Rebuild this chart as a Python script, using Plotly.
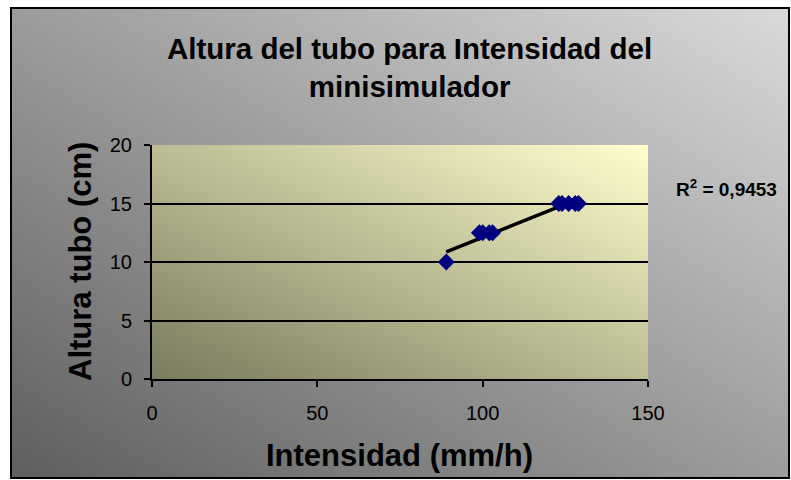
import base64
import numpy as np
import plotly.graph_objects as go

# Measurements: rainfall intensity of the mini-simulator vs. tube height
intensidad = [89, 99, 100, 102, 103, 123, 124, 126, 128, 129]   # mm/h
altura = [10, 12.5, 12.5, 12.5, 12.5, 15, 15, 15, 15, 15]        # cm
r2_reported = 0.9453

x_ticks = [0, 50, 100, 150]
y_ticks = [0, 5, 10, 15, 20]

# Linear trend line over the measured range
slope, intercept = np.polyfit(intensidad, altura, 1)
trend_x = [min(intensidad), max(intensidad)]
trend_y = [slope * v + intercept for v in trend_x]

W, H = 791, 480
ML, MR, MT, MB = 152, 143, 145, 101
PW, PH = W - ML - MR, H - MT - MB


def px_x(px):
    return (px - ML) / PW


def px_y(py):
    return (H - MB - py) / PH


def gradient_uri(c_low, c_high):
    svg = (
        '<svg xmlns="http://www.w3.org/2000/svg" width="100" height="100" '
        'viewBox="0 0 100 100" preserveAspectRatio="none">'
        '<defs><linearGradient id="g" x1="0" y1="1" x2="1" y2="0">'
        f'<stop offset="0" stop-color="{c_low}"/>'
        f'<stop offset="1" stop-color="{c_high}"/>'
        '</linearGradient></defs>'
        '<rect width="100" height="100" fill="url(#g)"/></svg>'
    )
    return "data:image/svg+xml;base64," + base64.b64encode(svg.encode()).decode()


FONT = "Arial, 'Liberation Sans', sans-serif"

fig = go.Figure()

fig.add_trace(go.Scatter(
    x=trend_x, y=trend_y, mode="lines",
    line=dict(color="black", width=3.5),
    hoverinfo="skip", showlegend=False,
))
fig.add_trace(go.Scatter(
    x=intensidad, y=altura, mode="markers",
    marker=dict(symbol="diamond", size=13, color="#000080", line=dict(width=0)),
    showlegend=False,
))

# Chart-area and plot-area gradient fills
bx0, by0, bx1, by1 = 11, 8, 789, 478
fig.add_layout_image(dict(
    source=gradient_uri("#5e5e5e", "#dadada"),
    xref="paper", yref="paper",
    x=px_x(bx0), y=px_y(by0),
    sizex=(bx1 - bx0) / PW, sizey=(by1 - by0) / PH,
    xanchor="left", yanchor="top", sizing="stretch", layer="below",
))
fig.add_layout_image(dict(
    source=gradient_uri("#7a7a5e", "#ffffcc"),
    xref="paper", yref="paper",
    x=0, y=1, sizex=1, sizey=1,
    xanchor="left", yanchor="top", sizing="stretch", layer="below",
))
fig.add_shape(
    type="rect", xref="paper", yref="paper",
    x0=px_x(bx0), x1=px_x(bx1), y0=px_y(by0), y1=px_y(by1),
    line=dict(color="black", width=2), layer="above",
)

axis_common = dict(
    showline=True, linecolor="black", linewidth=2,
    ticks="outside", ticklen=6, tickwidth=2, tickcolor="black",
    tickfont=dict(family=FONT, size=20, color="black"),
    zeroline=False, fixedrange=True,
)
fig.update_xaxes(
    range=[0, 150], tickvals=x_ticks, showgrid=False,
    ticklabelstandoff=9, **axis_common,
)
fig.update_yaxes(
    range=[0, 20], tickvals=y_ticks,
    showgrid=True, gridcolor="black", gridwidth=2,
    ticklabelstandoff=8, **axis_common,
)

annotations = [
    dict(text="<b>Altura del tubo para Intensidad del<br>minisimulador</b>",
         xref="paper", yref="paper", x=px_x(409), y=px_y(67),
         xanchor="center", yanchor="middle", showarrow=False,
         font=dict(family=FONT, size=29.5, color="black")),
    dict(text="<b>Intensidad (mm/h)</b>",
         xref="paper", yref="paper", x=px_x(399), y=px_y(455),
         xanchor="center", yanchor="middle", showarrow=False,
         font=dict(family=FONT, size=31, color="black")),
    dict(text="<b>Altura tubo (cm)</b>", textangle=-90,
         xref="paper", yref="paper", x=px_x(80), y=px_y(262),
         xanchor="center", yanchor="middle", showarrow=False,
         font=dict(family=FONT, size=31, color="black")),
    dict(text="<b>R<sup>2</sup> = " + f"{r2_reported:.4f}".replace(".", ",") + "</b>",
         xref="paper", yref="paper", x=px_x(726), y=px_y(188),
         xanchor="center", yanchor="middle", showarrow=False,
         font=dict(family=FONT, size=19, color="black")),
]

fig.update_layout(
    width=W, height=H, autosize=False,
    margin=dict(l=ML, r=MR, t=MT, b=MB, pad=0),
    paper_bgcolor="white", plot_bgcolor="rgba(0,0,0,0)",
    annotations=annotations,
    showlegend=False,
)

fig.write_html("out.html")
